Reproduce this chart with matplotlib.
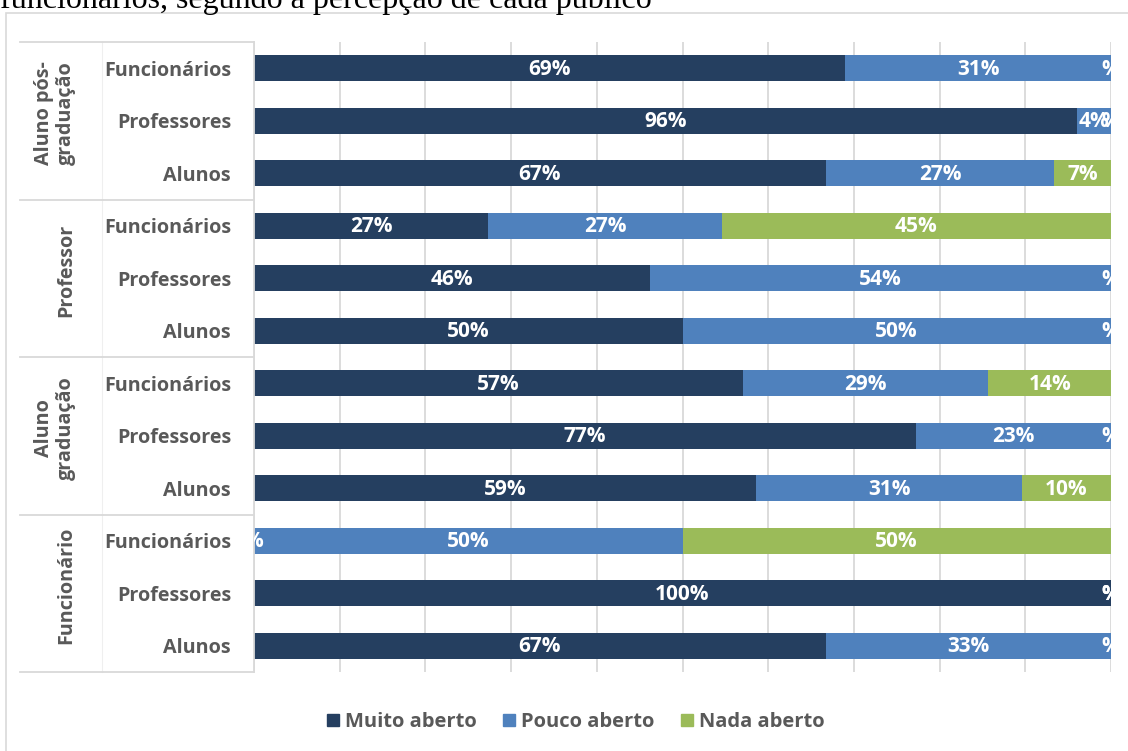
import matplotlib
matplotlib.use("Agg")
import matplotlib.pyplot as plt
from matplotlib.patches import Rectangle
from matplotlib.lines import Line2D
from matplotlib.transforms import blended_transform_factory

# ---------------- data ----------------
groups = ["Aluno pós-\ngraduação", "Professor", "Aluno\ngraduação", "Funcionário"]
subcats = ["Funcionários", "Professores", "Alunos"]
series = ["Muito aberto", "Pouco aberto", "Nada aberto"]

# rows top to bottom, values in percent
muito = [69.0, 96.0, 66.7, 27.3, 46.2, 50.0, 57.1, 77.3, 58.6, 0.0, 100.0, 66.7]
pouco = [31.0, 4.0, 26.7, 27.3, 53.8, 50.0, 28.6, 22.7, 31.0, 50.0, 0.0, 33.3]
nada = [0.0, 0.0, 6.6, 45.4, 0.0, 0.0, 14.3, 0.0, 10.4, 50.0, 0.0, 0.0]

caption = "funcionários, segundo a percepção de cada público"

colors = ["#253F60", "#4F81BD", "#9BBB59"]
gray_text = "#595959"
grid_col = "#D9D9D9"
FONT = "Open Sans"

W, H = 1128, 751
fig = plt.figure(figsize=(W / 100, H / 100), dpi=100)
fig.patch.set_facecolor("white")

def fx(px):
    return px / W

def fy(py):
    return 1 - py / H

# outer chart border
fig.add_artist(Rectangle((fx(6), -0.05), 1.2, fy(13) + 0.05, transform=fig.transFigure,
                         fill=False, edgecolor=grid_col, linewidth=1.2))

# caption (cut at the top)
fig.text(fx(0), fy(8), caption, family="Liberation Serif", fontsize=23,
         color="black", va="baseline", ha="left")

left, right, top, bottom = 254, 1111, 42, 672
ax = fig.add_axes([fx(left), fy(bottom), fx(right - left), (bottom - top) / H])

n = len(muito)
ypos = list(range(n))
data = [muito, pouco, nada]
lefts = [0.0] * n
for vals, col, name in zip(data, colors, series):
    ax.barh(ypos, vals, left=lefts, height=0.5, color=col, label=name, zorder=2)
    for i, (v, l) in enumerate(zip(vals, lefts)):
        txt = f"{v:.0f}%" if v > 0 else "%"
        ax.text(l + v / 2, i + 0.02, txt, ha="center", va="center", color="white",
                family=FONT, fontweight="bold", fontsize=15, zorder=3,
                clip_on=True)
    lefts = [a + b for a, b in zip(lefts, vals)]

ax.set_xlim(0, 100)
ax.set_ylim(n - 0.5, -0.5)
ax.set_xticks(range(0, 101, 10))
ax.set_xticklabels([])
ax.tick_params(axis="x", length=0)
ax.grid(axis="x", color=grid_col, linewidth=1.3, zorder=0)
ax.set_axisbelow(True)

ax.set_yticks(ypos)
ax.set_yticklabels(subcats * len(groups), family=FONT, fontweight="bold",
                   fontsize=14.2, color=gray_text)
ax.tick_params(axis="y", length=0, pad=16.5)

for s in ["top", "right", "bottom"]:
    ax.spines[s].set_visible(False)
ax.spines["left"].set_color(grid_col)
ax.spines["left"].set_linewidth(1.3)

# category axis decorations
tr = blended_transform_factory(fig.transFigure, ax.transData)
for b in [-0.5, 2.5, 5.5, 8.5, 11.5]:
    fig.add_artist(Line2D([fx(20), fx(left)], [b, b], transform=tr, color=grid_col,
                          linewidth=1.3, clip_on=False))
fig.add_artist(Line2D([fx(102), fx(102)], [-0.5, 11.5], transform=tr, color=grid_col,
                      linewidth=0.8, alpha=0.4, clip_on=False))

for gi, g in enumerate(groups):
    yc = gi * 3 + 1 - 0.15
    fig.text(fx(76), yc, g, transform=tr, rotation=90, ha="right", va="center",
             multialignment="center", family=FONT, fontweight="bold",
             fontsize=14.2, color=gray_text, linespacing=1.15)

# legend
handles = [Rectangle((0, 0), 1, 1, color=c) for c in colors]
fig.legend(handles, series, loc="center", bbox_to_anchor=(fx(576), fy(722)), ncol=3,
           frameon=False, handlelength=0.6, handleheight=0.6, handletextpad=0.3,
           columnspacing=1.3, prop={"family": FONT, "weight": "bold", "size": 14.5},
           labelcolor=gray_text)

fig.savefig("out.png", dpi=100)
